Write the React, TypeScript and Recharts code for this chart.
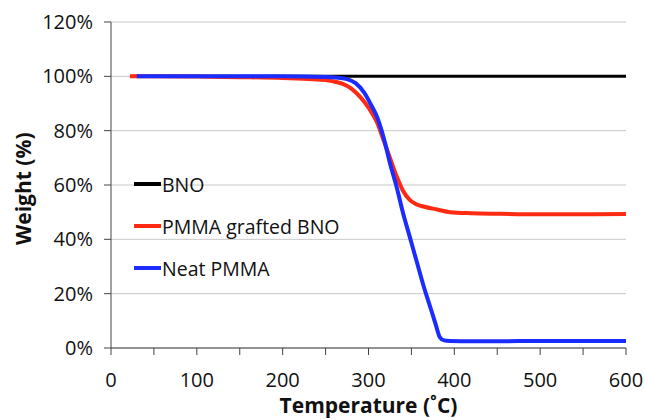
import { LineChart, Line, XAxis, YAxis, CartesianGrid } from "recharts"

// temperature (°C) / weight (%)
const bnoTemp = [25, 100, 200, 300, 400, 500, 600]
const bnoWeight = [100, 100, 100, 100, 100, 100, 100]

const graftTemp = [22, 50, 100, 150, 200, 230, 250, 260, 270, 280, 290, 300, 310, 317, 325, 333, 340, 348, 355, 365, 380, 395, 420, 450, 500, 550, 600]
const graftWeight = [100, 100, 99.9, 99.7, 99.4, 99.0, 98.6, 98.1, 97.2, 95.5, 92.5, 88.5, 83, 77, 70, 63, 58, 54.5, 53, 52, 51, 50, 49.6, 49.4, 49.2, 49.2, 49.3]

const neatTemp = [30, 100, 200, 250, 265, 275, 285, 295, 303, 310, 318, 325, 333, 340, 348, 356, 364, 372, 378, 383, 388, 395, 420, 450, 500, 550, 600]
const neatWeight = [100, 100, 100, 99.8, 99.5, 99, 97.5, 94, 89.5, 85, 77, 68, 59, 50, 41, 32, 23, 15, 9, 4, 2.8, 2.6, 2.5, 2.5, 2.6, 2.6, 2.6]

const xTicks = [0, 50, 100, 150, 200, 250, 300, 350, 400, 450, 500, 550, 600]
const yTicks = [0, 20, 40, 60, 80, 100, 120]

const toPoints = (t: number[], w: number[]) => t.map((x, i) => ({ t: x, w: w[i] }))

const series = [
  { name: "BNO", color: "#000000", width: 3, data: toPoints(bnoTemp, bnoWeight) },
  { name: "PMMA grafted BNO", color: "#ff2a12", width: 4, data: toPoints(graftTemp, graftWeight) },
  { name: "Neat PMMA", color: "#1a2cff", width: 4, data: toPoints(neatTemp, neatWeight) },
]

const font = "'Open Sans', 'Liberation Sans', sans-serif"

// legend sits inside the plot area, like the original
function LegendBox() {
  return (
    <div style={{ position: "absolute", left: 134, top: 163, fontFamily: font, fontSize: 19.5, color: "#111" }}>
      {series.map((s) => (
        <div key={s.name} style={{ display: "flex", alignItems: "center", height: 42 }}>
          <span style={{ display: "inline-block", width: 27, height: 4, background: s.color, marginRight: 1 }} />
          {s.name}
        </div>
      ))}
    </div>
  )
}

export default function App() {
  return (
    <div style={{ position: "absolute", left: 0, top: 0, width: 645, height: 419, background: "#fff" }}>
      <LineChart width={645} height={419} margin={{ top: 22, right: 19, bottom: 0, left: 0 }}>
        <CartesianGrid vertical={false} stroke="#c8c8c8" />
        <XAxis
          type="number"
          dataKey="t"
          domain={[0, 600]}
          ticks={xTicks}
          interval={0}
          height={71}
          tickSize={7}
          stroke="#444"
          tick={{ fontSize: 20, fill: "#111", fontFamily: font, dy: 16 }}
          tickFormatter={(v: number) => (v % 100 === 0 ? String(v) : "")}
          label={{ value: "Temperature (˚C)", position: "insideBottom", offset: 6, style: { fontSize: 21, fontWeight: 700, fill: "#111", fontFamily: font } }}
        />
        <YAxis
          type="number"
          domain={[0, 120]}
          ticks={yTicks}
          width={111}
          tickSize={7}
          stroke="#444"
          tick={{ fontSize: 20, fill: "#111", fontFamily: font, dx: -9 }}
          tickFormatter={(v: number) => `${v}%`}
          label={{ value: "Weight (%)", angle: -90, position: "insideLeft", offset: 24, dy: 60, style: { fontSize: 21, fontWeight: 700, fill: "#111", fontFamily: font } }}
        />
        {series.map((s) => (
          <Line
            key={s.name}
            data={s.data}
            dataKey="w"
            name={s.name}
            type="monotone"
            stroke={s.color}
            strokeWidth={s.width}
            dot={false}
            isAnimationActive={false}
          />
        ))}
      </LineChart>
      <LegendBox />
    </div>
  )
}
